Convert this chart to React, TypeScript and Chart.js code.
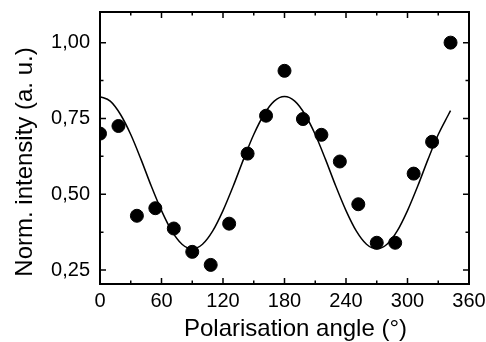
import React, { useEffect, useRef } from "react";
import { Chart, registerables } from "chart.js";

Chart.register(...registerables);

const angles = [0, 18, 36, 54, 72, 90, 108, 126, 144, 162, 180, 198, 216, 234, 252, 270, 288, 306, 324, 342];
const intensity = [0.70, 0.725, 0.429, 0.454, 0.387, 0.31, 0.267, 0.403, 0.634, 0.759, 0.907, 0.748, 0.696, 0.608, 0.467, 0.34, 0.34, 0.568, 0.673, 1.0];

const fitAngles = [0, 10, 20, 30, 40, 50, 60, 70, 80, 90, 100, 110, 120, 130, 140, 150, 160, 170, 180, 190, 200, 210, 220, 230, 240, 250, 260, 270, 280, 290, 300, 310, 320, 330, 340, 342];
const fitValues = [0.822, 0.807, 0.763, 0.697, 0.615, 0.527, 0.446, 0.379, 0.335, 0.32, 0.335, 0.379, 0.446, 0.527, 0.615, 0.697, 0.763, 0.807, 0.822, 0.807, 0.763, 0.697, 0.615, 0.527, 0.446, 0.379, 0.335, 0.32, 0.335, 0.379, 0.446, 0.527, 0.615, 0.697, 0.763, 0.776];

const xTicks = [0, 60, 120, 180, 240, 300, 360];
const xMinor = [30, 90, 150, 210, 270, 330];
const yTicks = [0.25, 0.5, 0.75, 1.0];
const yMinor = [0.375, 0.625, 0.875];

const xTitle = "Polarisation angle (°)";
const yTitle = "Norm. intensity (a. u.)";

const FONT = "'Liberation Sans', Arial, sans-serif";

const framePlugin = {
  id: "frame",
  afterDatasetsDraw(chart: any) {
    const { ctx, chartArea: a, scales } = chart;
    const x = scales.x;
    const y = scales.y;
    ctx.save();
    ctx.strokeStyle = "#000";
    ctx.lineWidth = 1.5;
    const major = 6;
    const minor = 3.5;
    ctx.beginPath();
    const vt = (v: number, len: number) => {
      const px = x.getPixelForValue(v);
      ctx.moveTo(px, a.bottom);
      ctx.lineTo(px, a.bottom - len);
      ctx.moveTo(px, a.top);
      ctx.lineTo(px, a.top + len);
    };
    const ht = (v: number, len: number) => {
      const py = y.getPixelForValue(v);
      ctx.moveTo(a.left, py);
      ctx.lineTo(a.left + len, py);
      ctx.moveTo(a.right, py);
      ctx.lineTo(a.right - len, py);
    };
    xTicks.forEach((v) => vt(v, major));
    xMinor.forEach((v) => vt(v, minor));
    yTicks.forEach((v) => ht(v, major));
    yMinor.forEach((v) => ht(v, minor));
    ctx.stroke();
    ctx.lineWidth = 2;
    ctx.strokeRect(a.left, a.top, a.right - a.left, a.bottom - a.top);

    // axis titles
    ctx.fillStyle = "#000";
    ctx.font = `24px ${FONT}`;
    ctx.textAlign = "center";
    ctx.textBaseline = "alphabetic";
    const cx = (a.left + a.right) / 2 + 11;
    ctx.fillText(xTitle, cx, chart.height - 6);
    ctx.save();
    const cy = (a.top + a.bottom) / 2 + 14;
    ctx.translate(32, cy);
    ctx.rotate(-Math.PI / 2);
    ctx.fillText(yTitle, 0, 0);
    ctx.restore();
    ctx.restore();
  },
};

export default function App() {
  const ref = useRef<HTMLCanvasElement>(null);
  useEffect(() => {
    const chart = new Chart(ref.current!, {
      type: "scatter",
      data: {
        datasets: [
          {
            type: "line",
            data: fitAngles.map((a, i) => ({ x: a, y: fitValues[i] })),
            borderColor: "#000",
            borderWidth: 1.5,
            pointRadius: 0,
            cubicInterpolationMode: "monotone",
            fill: false,
          } as any,
          {
            type: "scatter",
            data: angles.map((a, i) => ({ x: a, y: intensity[i] })),
            backgroundColor: "#000",
            borderColor: "#000",
            pointRadius: 6.5,
            pointHoverRadius: 6.5,
          },
        ],
      },
      options: {
        animation: false,
        responsive: false,
        layout: { padding: { top: 12, right: 17, left: 0, bottom: 0 } },
        plugins: { legend: { display: false }, tooltip: { enabled: false } },
        scales: {
          x: {
            type: "linear",
            min: 0,
            max: 360,
            afterBuildTicks: (s: any) => {
              s.ticks = xTicks.map((v) => ({ value: v }));
            },
            afterFit: (s: any) => {
              s.height = 58;
              s.paddingLeft = 0;
              s.paddingRight = 0;
              s.paddingTop = 0;
              s.paddingBottom = 0;
            },
            grid: { display: false, drawTicks: false },
            border: { display: false },
            ticks: {
              padding: 5,
              color: "#000",
              font: { family: FONT, size: 20 },
              maxRotation: 0,
              callback: (v: any) => String(v),
            },
            title: { display: false },
          },
          y: {
            type: "linear",
            min: 0.204,
            max: 1.101,
            afterBuildTicks: (s: any) => {
              s.ticks = yTicks.map((v) => ({ value: v }));
            },
            afterFit: (s: any) => {
              s.width = 100;
              s.paddingLeft = 0;
              s.paddingRight = 0;
              s.paddingTop = 0;
              s.paddingBottom = 0;
            },
            grid: { display: false, drawTicks: false },
            border: { display: false },
            ticks: {
              padding: 10,
              color: "#000",
              font: { family: FONT, size: 20 },
              callback: (v: any) => Number(v).toFixed(2).replace(".", ","),
            },
            title: { display: false },
          },
        },
      },
      plugins: [framePlugin],
    });
    return () => chart.destroy();
  }, []);
  return (
    <div style={{ position: "fixed", left: 0, top: 0, width: 486, height: 342, background: "#fff" }}>
      <canvas ref={ref} width={486} height={342} style={{ width: 486, height: 342 }} />
    </div>
  );
}
